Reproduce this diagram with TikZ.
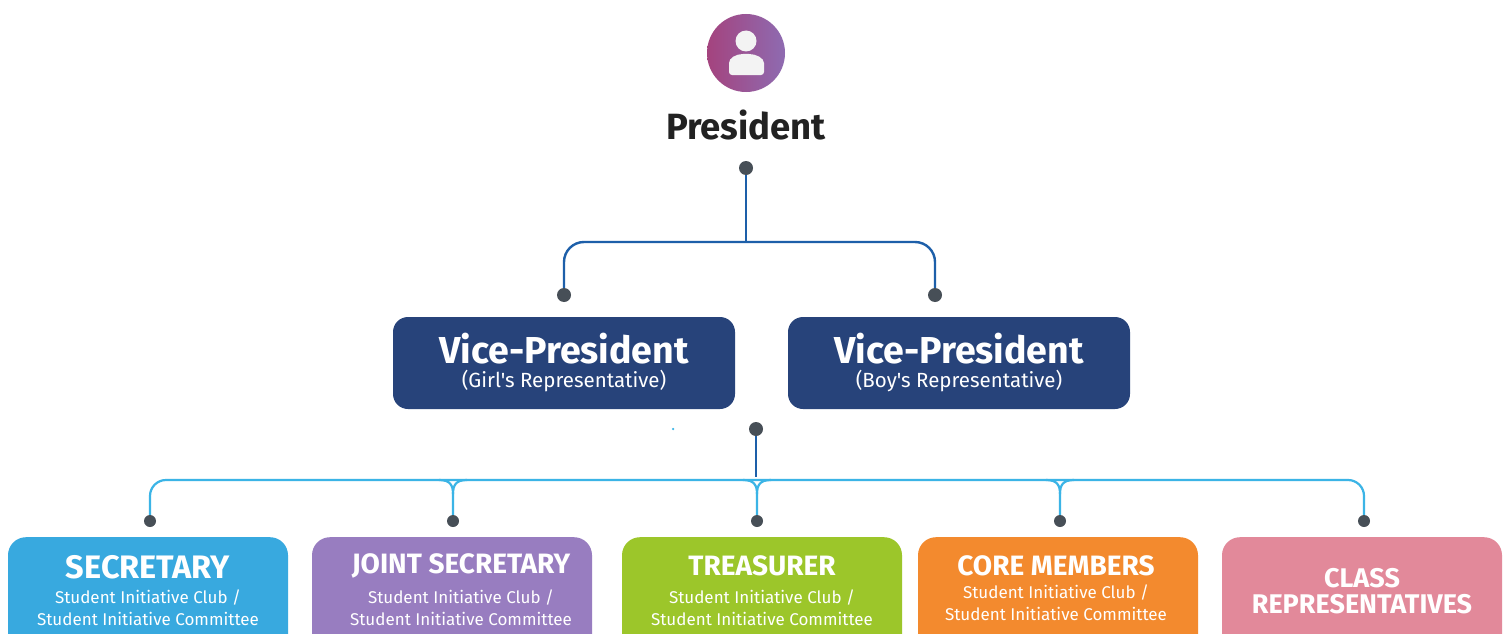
\documentclass[tikz,border=0pt]{standalone}
\usepackage{fontspec}
\setmainfont{Fira Sans}
\newfontfamily\fcond{Fira Sans}
\newfontfamily\fsub{Fira Sans}
\definecolor{vpblue}{HTML}{27437A}
\definecolor{lineblue}{HTML}{1D5FA9}
\definecolor{cyanline}{HTML}{3BB4E6}
\definecolor{dotgray}{HTML}{474F57}
\definecolor{csec}{HTML}{38A9DF}
\definecolor{cjoint}{HTML}{987DC0}
\definecolor{ctreas}{HTML}{9CC62A}
\definecolor{ccore}{HTML}{F38A2E}
\definecolor{cclass}{HTML}{E2899A}
\definecolor{gradl}{HTML}{A4437E}
\definecolor{gradr}{HTML}{8E6BB1}
\definecolor{icon}{HTML}{F3F3F3}
\definecolor{ptext}{HTML}{222222}
\usetikzlibrary{shadings}
\pgfdeclarelayer{bgzero}
\pgfdeclarelayer{bgone}
\pgfsetlayers{bgzero,bgone,main}
\tikzset{
  dotnode/.style={circle,fill=dotgray,inner sep=0pt,minimum size=#1},
  dotnode/.default=14pt,
  bline/.style={draw=lineblue,line width=2.4pt},
  cline/.style={draw=cyanline,line width=2.2pt},
  vpbox/.style={rectangle,rounded corners=15pt,fill=vpblue,minimum width=342pt,minimum height=92pt,inner sep=0pt},
  botbox/.style={rectangle,rounded corners=18pt,fill=#1,minimum width=280pt,minimum height=130pt,inner sep=0pt,anchor=north},
  vptitle/.style={text=white,font=\bfseries\fontsize{37.5}{40}\selectfont,inner sep=0pt},
  vpsub/.style={text=white,font=\fsub\fontsize{20.5}{22}\selectfont,inner sep=0pt},
  bottitle/.style={text=white,font=\fcond\bfseries\fontsize{28}{29}\selectfont,inner sep=0pt,align=center},
  botsub/.style={text=white,font=\fsub\fontsize{17}{22}\selectfont,inner sep=0pt,align=center},
}
\begin{document}
\begin{tikzpicture}[x=1pt,y=-1pt]
\useasboundingbox (0,0) rectangle (1509,634);
\begin{pgfonlayer}{bgzero}
\fill[white] (0,0) rectangle (1509,634);
\end{pgfonlayer}
\clip (0,0) rectangle (1509,634);
% president icon
\node[circle,minimum size=78pt,inner sep=0pt,left color=gradl,right color=gradr] (pic) at (746,53) {};
\fill[icon] (746,41) circle (10.5);
\fill[icon,rounded corners=3pt] (729,75) -- (729,66) .. controls (729,58) and (736,54) .. (746,54) .. controls (756,54) and (764,58) .. (764,66) -- (764,75) -- cycle;
\node[text=ptext,font=\bfseries\fontsize{36.5}{38}\selectfont,inner sep=0pt] (pres) at (746,125) {President};
% top dots
\node[dotnode] (p0) at (746,168) {};
\node[dotnode] (v1) at (564,295) {};
\node[dotnode] (v2) at (935,295) {};
\coordinate (j1) at (746,242);
% VP boxes
\node[vpbox] (vp1) at (564,363) {};
\node[vpbox] (vp2) at (959,363) {};
\node[vptitle] (vp1t) at (564,349) {Vice-President};
\node[vpsub] (vp1s) at (564,381) {(Girl's Representative)};
\node[vptitle] (vp2t) at (959,349) {Vice-President};
\node[vpsub] (vp2s) at (959,381) {(Boy's Representative)};
% middle dot
\node[dotnode] (m0) at (756,429) {};
\node[circle,fill=cyanline,inner sep=0pt,minimum size=2.5pt] (spk) at (673,429) {};
\coordinate (m1) at (756,477);
\coordinate (j2) at (757,480);
% bottom dots
\node[dotnode=12pt] (d1) at (150,521) {};
\node[dotnode=12pt] (d2) at (453,521) {};
\node[dotnode=12pt] (d3) at (757,521) {};
\node[dotnode=12pt] (d4) at (1060,521) {};
\node[dotnode=12pt] (d5) at (1364,521) {};
% connectors behind dots
\begin{pgfonlayer}{bgone}
\draw[bline] (p0.center) -- (j1);
\draw[bline,rounded corners=20pt] (v1.center) |- (j1) -| (v2.center);
\draw[bline] (m0.center) -- (m1);
\draw[cline,rounded corners=16pt] (d1.center) |- (j2) -| (d5.center);
\foreach \n in {d2,d3,d4}{
  \draw[cline] (\n.center) -- ([yshift=27pt]\n.center)
    .. controls ([yshift=36pt]\n.center) and ([xshift=-3pt,yshift=41pt]\n.center) .. ([xshift=-14pt,yshift=41pt]\n.center);
  \draw[cline] ([yshift=27pt]\n.center)
    .. controls ([yshift=36pt]\n.center) and ([xshift=3pt,yshift=41pt]\n.center) .. ([xshift=14pt,yshift=41pt]\n.center);
}
\end{pgfonlayer}
% bottom boxes
\node[botbox=csec] (b1) at (148,537) {};
\node[botbox=cjoint] (b2) at (452,537) {};
\node[botbox=ctreas] (b3) at (762,537) {};
\node[botbox=ccore] (b4) at (1058,537) {};
\node[botbox=cclass] (b5) at (1362,537) {};
\node[bottitle,font=\fcond\bfseries\fontsize{32.5}{34}\selectfont] (b1t) at (148,567) {SECRETARY};
\node[botsub] (b1s) at (148,608) {Student Initiative Club /\\Student Initiative Committee};
\node[bottitle] (b2t) at (461,566) {JOINT SECRETARY};
\node[botsub] (b2s) at (461,608) {Student Initiative Club /\\Student Initiative Committee};
\node[bottitle] (b3t) at (762,566) {TREASURER};
\node[botsub] (b3s) at (762,608) {Student Initiative Club /\\Student Initiative Committee};
\node[bottitle] (b4t) at (1056,566) {CORE MEMBERS};
\node[botsub] (b4s) at (1056,603) {Student Initiative Club /\\Student Initiative Committee};
\node[bottitle,font=\fcond\bfseries\fontsize{27}{26}\selectfont] (b5t) at (1362,591) {CLASS\\REPRESENTATIVES};
\end{tikzpicture}
\end{document}
